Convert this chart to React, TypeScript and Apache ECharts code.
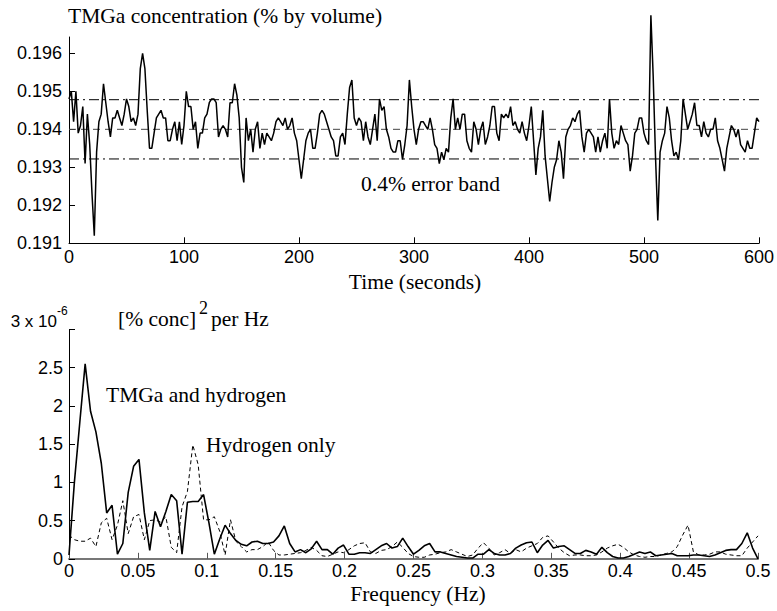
import React, { useEffect, useRef } from "react";
import * as echarts from "echarts";

// ---- Top panel: TMGa concentration sampled every 2 s, 0..600 s ----
const SAMPLE_PERIOD_S = 2;
const tmgaConcentration: number[] = [
  0.1948, 0.1950, 0.1942, 0.1950, 0.1939, 0.1941, 0.1946, 0.1931, 0.1944, 0.1936,
  0.1923, 0.1912, 0.1934, 0.1942, 0.1944, 0.1952, 0.1947, 0.1942, 0.1938, 0.1943,
  0.1943, 0.1945, 0.1943, 0.1941, 0.1944, 0.1948, 0.1946, 0.1942, 0.1943, 0.1941,
  0.1944, 0.1956, 0.1960, 0.1956, 0.1945, 0.1935, 0.1935, 0.1939, 0.1943, 0.1944,
  0.1945, 0.1943, 0.1943, 0.1937, 0.1937, 0.1940, 0.1942, 0.1937, 0.1942, 0.1936,
  0.1941, 0.1950, 0.1946, 0.1946, 0.1940, 0.1942, 0.1935, 0.1939, 0.1939, 0.1943,
  0.1944, 0.1947, 0.1948, 0.1948, 0.1947, 0.1938, 0.1940, 0.1941, 0.1940, 0.1938,
  0.1947, 0.1947, 0.1952, 0.1949, 0.1943, 0.1930, 0.1926, 0.1943, 0.1937, 0.1940,
  0.1934, 0.1940, 0.1942, 0.1935, 0.1939, 0.1936, 0.1939, 0.1938, 0.1937, 0.1939,
  0.1942, 0.1943, 0.1942, 0.1941, 0.1943, 0.1940, 0.1941, 0.1943, 0.1939, 0.1937,
  0.1932, 0.1927, 0.1932, 0.1937, 0.1939, 0.1940, 0.1935, 0.1935, 0.1939, 0.1944,
  0.1945, 0.1944, 0.1942, 0.1940, 0.1938, 0.1937, 0.1933, 0.1933, 0.1938, 0.1939,
  0.1936, 0.1944, 0.1951, 0.1953, 0.1943, 0.1941, 0.1943, 0.1942, 0.1937, 0.1942,
  0.1938, 0.1936, 0.1940, 0.1944, 0.1937, 0.1948, 0.1945, 0.1946, 0.1940, 0.1938,
  0.1935, 0.1934, 0.1934, 0.1937, 0.1937, 0.1932, 0.1936, 0.1941, 0.1953, 0.1946,
  0.1940, 0.1936, 0.1940, 0.1942, 0.1942, 0.1941, 0.1940, 0.1943, 0.1940, 0.1936,
  0.1935, 0.1931, 0.1934, 0.1932, 0.1935, 0.1934, 0.1943, 0.1948, 0.1940, 0.1943,
  0.1940, 0.1944, 0.1944, 0.1937, 0.1935, 0.1934, 0.1942, 0.1940, 0.1936, 0.1940,
  0.1942, 0.1936, 0.1938, 0.1941, 0.1946, 0.1946, 0.1939, 0.1937, 0.1944, 0.1943,
  0.1944, 0.1943, 0.1946, 0.1941, 0.1942, 0.1940, 0.1939, 0.1942, 0.1939, 0.1937,
  0.1941, 0.1946, 0.1937, 0.1928, 0.1935, 0.1938, 0.1945, 0.1933, 0.1927, 0.1921,
  0.1926, 0.1930, 0.1932, 0.1937, 0.1934, 0.1927, 0.1938, 0.1940, 0.1941, 0.1943,
  0.1942, 0.1944, 0.1945, 0.1938, 0.1934, 0.1939, 0.1940, 0.1939, 0.1938, 0.1934,
  0.1938, 0.1934, 0.1937, 0.1939, 0.1935, 0.1948, 0.1939, 0.1935, 0.1937, 0.1936,
  0.1941, 0.1939, 0.1937, 0.1936, 0.1929, 0.1933, 0.1939, 0.1940, 0.1943, 0.1943,
  0.1939, 0.1937, 0.1936, 0.1970, 0.1954, 0.1933, 0.1916, 0.1934, 0.1937, 0.1939,
  0.1946, 0.1943, 0.1937, 0.1933, 0.1934, 0.1932, 0.1937, 0.1948, 0.1944, 0.1940,
  0.1942, 0.1944, 0.1947, 0.1941, 0.1941, 0.1938, 0.1942, 0.1939, 0.1938, 0.1940,
  0.1940, 0.1943, 0.1937, 0.1935, 0.1932, 0.1929, 0.1935, 0.1938, 0.1941, 0.1940,
  0.1938, 0.1940, 0.1936, 0.1935, 0.1934, 0.1937, 0.1935, 0.1935, 0.1939, 0.1943,
  0.1942,
];
const bandCenter = 0.194;
const bandUpper = 0.19478;
const bandLower = 0.19322;
const timeTicks = [0, 100, 200, 300, 400, 500, 600];
const concTicks = [0.191, 0.192, 0.193, 0.194, 0.195, 0.196];

// ---- Bottom panel: power spectra, units of 1e-6 [% conc]^2 per Hz ----
const FREQ_STEP_HZ = 0.5 / 128;
const spectrumTmgaHydrogen: number[] = [
  0.05, 1.00, 1.78, 2.55, 1.93, 1.66, 1.25, 0.60, 0.70, 0.06,
  0.20, 0.87, 1.21, 1.30, 0.60, 0.11, 0.62, 0.42, 0.62, 0.84,
  0.76, 0.06, 0.74, 0.75, 0.75, 0.84, 0.47, 0.06, 0.26, 0.44,
  0.33, 0.24, 0.19, 0.17, 0.22, 0.23, 0.20, 0.20, 0.22, 0.30,
  0.43, 0.20, 0.09, 0.12, 0.08, 0.13, 0.23, 0.12, 0.12, 0.06,
  0.14, 0.18, 0.06, 0.06, 0.08, 0.08, 0.07, 0.12, 0.17, 0.20,
  0.14, 0.16, 0.27, 0.16, 0.06, 0.11, 0.17, 0.20, 0.09, 0.09,
  0.07, 0.05, 0.03, 0.02, 0.01, 0.01, 0.06, 0.06, 0.12, 0.07,
  0.05, 0.05, 0.07, 0.14, 0.18, 0.21, 0.22, 0.08, 0.18, 0.24,
  0.14, 0.16, 0.17, 0.12, 0.07, 0.07, 0.11, 0.09, 0.06, 0.15,
  0.08, 0.03, 0.01, 0.01, 0.03, 0.06, 0.09, 0.07, 0.09, 0.04,
  0.05, 0.06, 0.07, 0.04, 0.04, 0.04, 0.05, 0.05, 0.04, 0.03,
  0.05, 0.08, 0.11, 0.12, 0.12, 0.20, 0.34, 0.14, 0.00,
];
const spectrumHydrogenOnly: number[] = [
  0.31, 0.25, 0.23, 0.23, 0.27, 0.16, 0.47, 0.53, 0.25, 0.44,
  0.76, 0.33, 0.55, 0.58, 0.25, 0.50, 0.51, 0.48, 0.55, 0.15,
  0.08, 0.68, 0.88, 1.49, 1.23, 0.51, 0.51, 0.55, 0.36, 0.05,
  0.51, 0.23, 0.16, 0.09, 0.12, 0.12, 0.16, 0.22, 0.11, 0.05,
  0.05, 0.06, 0.07, 0.08, 0.11, 0.15, 0.11, 0.04, 0.03, 0.06,
  0.09, 0.08, 0.12, 0.17, 0.20, 0.21, 0.09, 0.07, 0.11, 0.12,
  0.16, 0.22, 0.15, 0.07, 0.03, 0.02, 0.02, 0.05, 0.06, 0.08,
  0.09, 0.12, 0.09, 0.06, 0.03, 0.05, 0.14, 0.21, 0.14, 0.05,
  0.08, 0.12, 0.07, 0.12, 0.09, 0.14, 0.17, 0.20, 0.28, 0.30,
  0.22, 0.14, 0.08, 0.04, 0.05, 0.05, 0.04, 0.04, 0.05, 0.09,
  0.14, 0.17, 0.19, 0.15, 0.09, 0.05, 0.03, 0.02, 0.03, 0.03,
  0.05, 0.07, 0.09, 0.16, 0.31, 0.44, 0.09, 0.05, 0.05, 0.06,
  0.09, 0.09, 0.06, 0.05, 0.04, 0.04, 0.14, 0.22, 0.30,
];
const freqTicks = [0, 0.05, 0.1, 0.15, 0.2, 0.25, 0.3, 0.35, 0.4, 0.45, 0.5];
const psdTicks = [0, 0.5, 1, 1.5, 2, 2.5, 3];

const SANS = "'Liberation Sans', Arial, Helvetica, sans-serif";
const SERIF = "'Liberation Serif', 'Times New Roman', serif";

function buildOption() {
  const topData = tmgaConcentration.map((v, i) => [i * SAMPLE_PERIOD_S, v]);
  const tEnd = (tmgaConcentration.length - 1) * SAMPLE_PERIOD_S;
  const solid = spectrumTmgaHydrogen.map((v, i) => [i * FREQ_STEP_HZ, v]);
  const dashed = spectrumHydrogenOnly.map((v, i) => [i * FREQ_STEP_HZ, v]);

  const axisLabel = { color: "#000", fontSize: 18, fontFamily: SANS };
  const tick = { show: true, inside: true, length: 6, lineStyle: { color: "#000", width: 1 } };
  const line = { show: true, onZero: false, lineStyle: { color: "#000", width: 1 } };

  const txt = (text: string, x: number, y: number, extra: any = {}) => ({
    type: "text",
    x,
    y,
    silent: true,
    style: {
      text,
      fill: "#000",
      fontFamily: SERIF,
      fontSize: 21.5,
      verticalAlign: "middle",
      align: "left",
      ...extra,
    },
  });

  return {
    animation: false,
    backgroundColor: "#fff",
    grid: [
      { left: 69, top: 37, width: 690, height: 206.3 },
      { left: 69, top: 329.5, width: 689, height: 229.3 },
    ],
    xAxis: [
      {
        type: "value",
        gridIndex: 0,
        min: 0,
        max: 600,
        interval: 100,
        axisLine: line,
        axisTick: { ...tick, customValues: timeTicks },
        axisLabel: { ...axisLabel, margin: 5, customValues: timeTicks },
        splitLine: { show: false },
      },
      {
        type: "value",
        gridIndex: 1,
        min: 0,
        max: 0.5,
        interval: 0.05,
        axisLine: { show: true, onZero: false, lineStyle: { color: "#777", width: 2 } },
        axisTick: { ...tick, lineStyle: { color: "#555", width: 1 }, customValues: freqTicks },
        axisLabel: {
          ...axisLabel,
          margin: 3,
          customValues: freqTicks,
          formatter: (v: number) => String(parseFloat(v.toFixed(2))),
        },
        splitLine: { show: false },
      },
    ],
    yAxis: [
      {
        type: "value",
        gridIndex: 0,
        min: 0.191,
        max: 0.19643,
        axisLine: line,
        axisTick: { ...tick, customValues: concTicks },
        axisLabel: {
          ...axisLabel,
          margin: 7,
          customValues: concTicks,
          formatter: (v: number) => v.toFixed(3),
        },
        splitLine: { show: false },
      },
      {
        type: "value",
        gridIndex: 1,
        min: 0,
        max: 3,
        interval: 0.5,
        axisLine: line,
        axisTick: { ...tick, customValues: psdTicks },
        axisLabel: {
          ...axisLabel,
          margin: 6,
          customValues: psdTicks,
          formatter: (v: number) => (v === 3 ? "" : String(v)),
        },
        splitLine: { show: false },
      },
    ],
    graphic: [
      txt("TMGa concentration (% by volume)", 68, 16),
      txt("Time (seconds)", 415, 282, { align: "center" }),
      txt("0.4% error band", 361, 184),
      txt("[% conc]", 118, 319),
      txt("2", 199, 308, { fontSize: 18 }),
      txt("per Hz", 211, 319),
      txt("TMGa and hydrogen", 106, 395),
      txt("Hydrogen only", 206, 445),
      txt("Frequency (Hz)", 418, 594, { align: "center" }),
      txt("3 x 10", 57, 321, { fontFamily: SANS, fontSize: 17, align: "right" }),
      txt("-6", 57, 311, { fontFamily: SANS, fontSize: 12 }),
    ],
    series: [
      {
        type: "line",
        xAxisIndex: 0,
        yAxisIndex: 0,
        data: [[0, bandUpper], [tEnd, bandUpper]],
        symbol: "none",
        silent: true,
        lineStyle: { color: "#000", width: 1, type: [10, 4, 2, 4] },
      },
      {
        type: "line",
        xAxisIndex: 0,
        yAxisIndex: 0,
        data: [[0, bandCenter], [tEnd, bandCenter]],
        symbol: "none",
        silent: true,
        lineStyle: { color: "#444", width: 1, type: [7, 5] },
      },
      {
        type: "line",
        xAxisIndex: 0,
        yAxisIndex: 0,
        data: [[0, bandLower], [tEnd, bandLower]],
        symbol: "none",
        silent: true,
        lineStyle: { color: "#000", width: 1, type: [10, 4, 2, 4] },
      },
      {
        name: "TMGa concentration",
        type: "line",
        xAxisIndex: 0,
        yAxisIndex: 0,
        data: topData,
        symbol: "none",
        clip: false,
        lineStyle: { color: "#000", width: 1.5 },
      },
      {
        name: "Hydrogen only",
        type: "line",
        xAxisIndex: 1,
        yAxisIndex: 1,
        data: dashed,
        symbol: "none",
        lineStyle: { color: "#000", width: 1, type: [4, 3] },
      },
      {
        name: "TMGa and hydrogen",
        type: "line",
        xAxisIndex: 1,
        yAxisIndex: 1,
        data: solid,
        symbol: "none",
        lineStyle: { color: "#000", width: 1.6 },
      },
    ],
  };
}

export default function App() {
  const ref = useRef<HTMLDivElement>(null);
  useEffect(() => {
    if (!ref.current) return;
    const chart = echarts.init(ref.current, undefined, { renderer: "svg" });
    chart.setOption(buildOption() as any);
    return () => chart.dispose();
  }, []);
  return (
    <div
      ref={ref}
      style={{ position: "fixed", left: 0, top: 0, width: 777, height: 611, background: "#fff" }}
    />
  );
}
